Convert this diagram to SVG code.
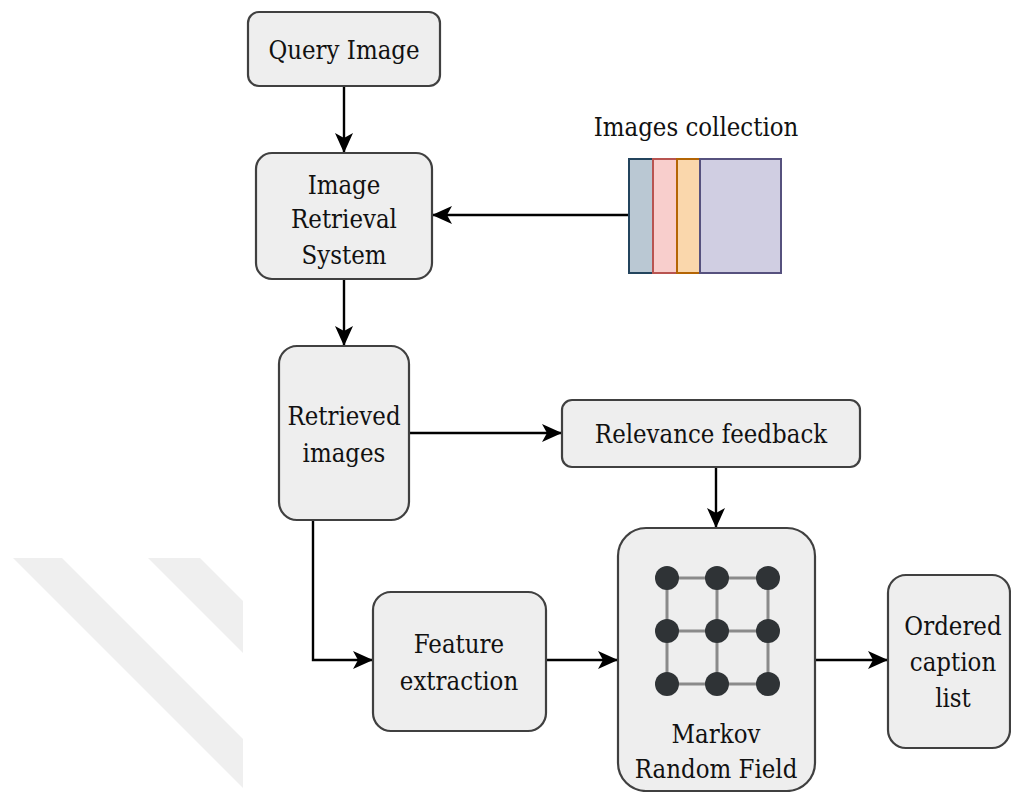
<svg xmlns="http://www.w3.org/2000/svg" width="1011" height="792" viewBox="0 0 1011 792">
<defs>
<style>
.box{fill:#eeeeee;stroke:#404040;stroke-width:2.2}
text{font-family:'DejaVu Serif Condensed','DejaVu Serif','Liberation Serif',serif;font-stretch:condensed;font-size:25.5px;fill:#111;text-anchor:middle}
.c{fill:none;stroke:#000;stroke-width:2.4}
.g{stroke:#8a8a8a;stroke-width:3}
.n{fill:#2f3336}
</style>
<marker id="ah" viewBox="0 0 20 18" refX="19" refY="9" markerWidth="20" markerHeight="18" markerUnits="userSpaceOnUse" orient="auto">
<path d="M0,0 L20,9 L0,18 L5,9 Z" fill="#000"/>
</marker>
</defs>
<rect width="1011" height="792" fill="#fff"/>
<g id="watermark" fill="#efefef">
<polygon points="13,558 62,558 243,739 243,788"/>
<polygon points="148,558 200,558 243,601 243,653"/>
</g>
<g id="connectors">
<line class="c" x1="344" y1="86" x2="344" y2="152" marker-end="url(#ah)"/>
<line class="c" x1="629" y1="215" x2="433" y2="215" marker-end="url(#ah)"/>
<line class="c" x1="344" y1="279" x2="344" y2="345" marker-end="url(#ah)"/>
<line class="c" x1="409" y1="433" x2="561" y2="433" marker-end="url(#ah)"/>
<line class="c" x1="716" y1="467" x2="716" y2="527" marker-end="url(#ah)"/>
<polyline class="c" points="313,520 313,660 372,660" marker-end="url(#ah)"/>
<line class="c" x1="546" y1="660" x2="617" y2="660" marker-end="url(#ah)"/>
<line class="c" x1="815" y1="660" x2="887" y2="660" marker-end="url(#ah)"/>
</g>
<g id="query">
<rect class="box" x="248" y="12" width="192" height="74" rx="11"/>
<text x="344" y="59">Query Image</text>
</g>
<g id="irs">
<rect class="box" x="256" y="153" width="176" height="126" rx="16"/>
<text x="344" y="194">Image</text>
<text x="344" y="228">Retrieval</text>
<text x="344" y="264">System</text>
</g>
<g id="collection">
<text x="696" y="136">Images collection</text>
<rect x="629" y="159" width="24" height="114" fill="#bac8d3" stroke="#23445d" stroke-width="2"/>
<rect x="653" y="159" width="24" height="114" fill="#f8cecc" stroke="#b85450" stroke-width="2"/>
<rect x="677" y="159" width="23" height="114" fill="#fad7ac" stroke="#b46504" stroke-width="2"/>
<rect x="700" y="159" width="81" height="114" fill="#d0cee2" stroke="#56517e" stroke-width="2"/>
</g>
<g id="retrieved">
<rect class="box" x="279" y="346" width="130" height="174" rx="18"/>
<text x="344" y="425">Retrieved</text>
<text x="344" y="462">images</text>
</g>
<g id="relevance">
<rect class="box" x="562" y="400" width="298" height="67" rx="10"/>
<text x="711" y="443">Relevance feedback</text>
</g>
<g id="feature">
<rect class="box" x="373" y="592" width="173" height="139" rx="18"/>
<text x="459" y="653">Feature</text>
<text x="459" y="690">extraction</text>
</g>
<g id="mrf">
<rect class="box" x="618" y="528" width="197" height="263" rx="28"/>
<g class="g">
<line x1="667" y1="578" x2="768" y2="578"/>
<line x1="667" y1="631" x2="768" y2="631"/>
<line x1="667" y1="684" x2="768" y2="684"/>
<line x1="667" y1="578" x2="667" y2="684"/>
<line x1="717" y1="578" x2="717" y2="684"/>
<line x1="768" y1="578" x2="768" y2="684"/>
</g>
<circle class="n" cx="667" cy="578" r="12"/>
<circle class="n" cx="717" cy="578" r="12"/>
<circle class="n" cx="768" cy="578" r="12"/>
<circle class="n" cx="667" cy="631" r="12"/>
<circle class="n" cx="717" cy="631" r="12"/>
<circle class="n" cx="768" cy="631" r="12"/>
<circle class="n" cx="667" cy="684" r="12"/>
<circle class="n" cx="717" cy="684" r="12"/>
<circle class="n" cx="768" cy="684" r="12"/>
<text x="716" y="743">Markov</text>
<text x="716" y="778">Random Field</text>
</g>
<g id="ordered">
<rect class="box" x="888" y="575" width="122" height="173" rx="18"/>
<text x="953" y="635">Ordered</text>
<text x="953" y="671">caption</text>
<text x="953" y="707">list</text>
</g>
</svg>
